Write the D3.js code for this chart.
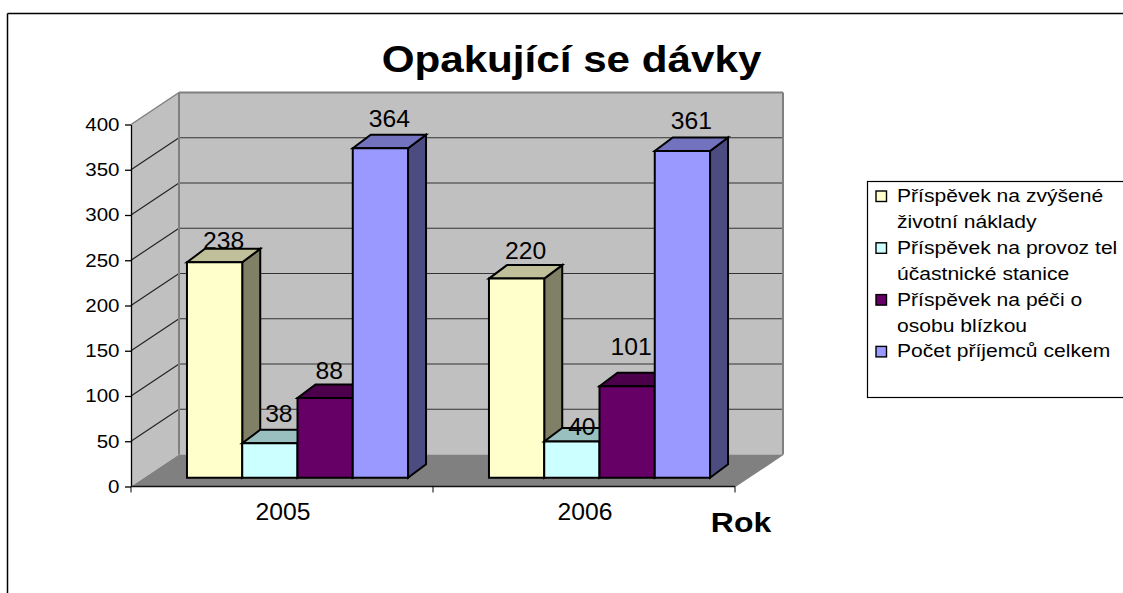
<!DOCTYPE html>
<html><head><meta charset="utf-8">
<script src="https://cdnjs.cloudflare.com/ajax/libs/d3/7.8.5/d3.min.js"></script>
<style>html,body{margin:0;padding:0;background:#fff;overflow:hidden}svg{display:block;font-family:"Liberation Sans",Arial,sans-serif}</style>
</head><body><svg id="c" width="1123" height="593"></svg>
<script>
const years = ["2005","2006"];
const legendLines = [["Příspěvek na zvýšené","životní náklady"],["Příspěvek na provoz tel","účastnické stanice"],["Příspěvek na péči o","osobu blízkou"],["Počet příjemců celkem"]];
const values2005 = [238,38,88,364];
const values2006 = [220,40,101,361];
const yTicks = [0,50,100,150,200,250,300,350,400];
const faceColors = ["#FFFFCC","#CCFFFF","#660066","#9999FF"];
const topColors = ["#BFBF99","#99BFBF","#4C004C","#7272BF"];
const sideColors = ["#808066","#668080","#330033","#4C4C80"];
const labelDx = [[0,0,-5,0],[0,1,-5,0]];
const labelDy = [[7,-1,1,-1],[1,14,-11,-1]];

const stretch = 1.14; // the reference's text is wider than it is tall
const svg = d3.select("#c");
const depth = {x:48,y:32}, barDepth = {x:18,y:13.5};
const y = d3.scaleLinear().domain([0,400]).range([486.5,124.5]);
const x0 = d3.scaleBand().domain(years).range([131,735]).paddingInner(0.268).paddingOuter(0.134);
const x1 = d3.scaleBand().domain(d3.range(4)).range([0,x0.bandwidth()]);
const barOffset = {x:15.5,y:-8.8};
const L = x0.range()[0], R = x0.range()[1], B = y(0), T = y(400);
const poly = (pts,fill,stroke,w)=>svg.append("polygon").attr("points",pts.map(p=>p.join(",")).join(" ")).attr("fill",fill).attr("stroke",stroke||"none").attr("stroke-width",w||0).attr("stroke-linejoin","miter");
const line = (a,b,c,w)=>svg.append("line").attr("x1",a[0]).attr("y1",a[1]).attr("x2",b[0]).attr("y2",b[1]).attr("stroke",c).attr("stroke-width",w);
const label = (parent,t,px,py,size,anchor,bold,sx)=>parent.append("text").text(t)
  .attr("transform",`translate(${px},${py}) scale(${sx||stretch},1)`)
  .attr("text-anchor",anchor||"middle").attr("font-size",size).attr("font-weight",bold?"bold":"normal").attr("fill","#000");

// chart frame
line([7.5,13.5],[1123,13.5],"#000",1.5); line([7.5,13.5],[7.5,593],"#000",1.5);

// walls and floor
poly([[L,B],[L+depth.x,B-depth.y],[L+depth.x,T-depth.y],[L,T]],"#C0C0C0");
poly([[L+depth.x,B-depth.y],[R+depth.x,B-depth.y],[R+depth.x,T-depth.y],[L+depth.x,T-depth.y]],"#C0C0C0");
poly([[L,B],[R,B],[R+depth.x,B-depth.y],[L+depth.x,B-depth.y]],"#808080");
yTicks.filter(t=>t>0&&t<400).forEach(t=>{
  line([L,y(t)],[L+depth.x,y(t)-depth.y],"#222",1.2);
  line([L+depth.x,y(t)-depth.y],[R+depth.x,y(t)-depth.y],"#333",1.2);
});
// wall edges
const edge="#808080";
line([L,T],[L+depth.x,T-depth.y],edge,1.5);
line([L+depth.x,T-depth.y],[R+depth.x,T-depth.y],edge,2);
line([L+depth.x,T-depth.y],[L+depth.x,B-depth.y],edge,2);
line([R+depth.x,T-depth.y],[R+depth.x,B-depth.y],edge,2);
line([R,B],[R+depth.x,B-depth.y],edge,1.5);

// axes
const yAxis = d3.axisLeft(y).tickValues(yTicks).tickSize(6).tickSizeOuter(0);
const gy = svg.append("g").attr("transform",`translate(${L},0)`).call(yAxis);
gy.selectAll("text").attr("font-size",18).attr("font-family","Liberation Sans").attr("fill","#000").attr("x",0)
  .attr("transform",`translate(-11.5,0) scale(${stretch},1)`);
gy.selectAll("line,path").attr("stroke","#000").attr("stroke-width",1.3);
line([L,B],[R,B],"#111",1.6);
[L,(L+R)/2,R].forEach(v=>line([v,B],[v,B+6],"#000",1));
years.forEach(yr=>label(svg,yr,x0(yr)+x0.bandwidth()/2+1,520,23.5,"middle",false,1.05));

// bars
const data = [values2005,values2006];
const labels = [];
years.forEach((yr,g)=>{
  data[g].forEach((v,s)=>{
    const xa = x0(yr)+x1(s)+barOffset.x, xb = xa+x1.bandwidth();
    const yb = y(0)+barOffset.y, yt = y(v)+barOffset.y;
    const d = barDepth, st="#000", w=2;
    poly([[xb,yb],[xb+d.x,yb-d.y],[xb+d.x,yt-d.y],[xb,yt]],sideColors[s],st,w);
    poly([[xa,yt],[xb,yt],[xb+d.x,yt-d.y],[xa+d.x,yt-d.y]],topColors[s],st,w);
    poly([[xa,yb],[xb,yb],[xb,yt],[xa,yt]],faceColors[s],st,w);
    labels.push({t:v,x:(xa+xb)/2+d.x/2+labelDx[g][s],y:yt-d.y-7+labelDy[g][s]});
  });
});
labels.forEach(d=>label(svg,d.t,d.x,d.y,23.5,"middle",false,1.05));

// titles
label(svg,"Opakující se dávky",571.5,72,37,"middle",true);
label(svg,"Rok",741,532,28,"middle",true);

// legend
const lg = svg.append("g");
lg.append("rect").attr("x",867.5).attr("y",181.5).attr("width",300).attr("height",216).attr("fill","#fff").attr("stroke","#000").attr("stroke-width",1.2);
let ln=0;
legendLines.forEach((ls,i)=>{
  const base=202+ln*25.9;
  lg.append("rect").attr("x",876).attr("y",base-11).attr("width",10.5).attr("height",10.5).attr("fill",faceColors[i]).attr("stroke","#000").attr("stroke-width",1.4);
  ls.forEach(t=>{ label(lg,t,897,202+ln*25.9,18.5,"start"); ln++; });
});
</script></body></html>
